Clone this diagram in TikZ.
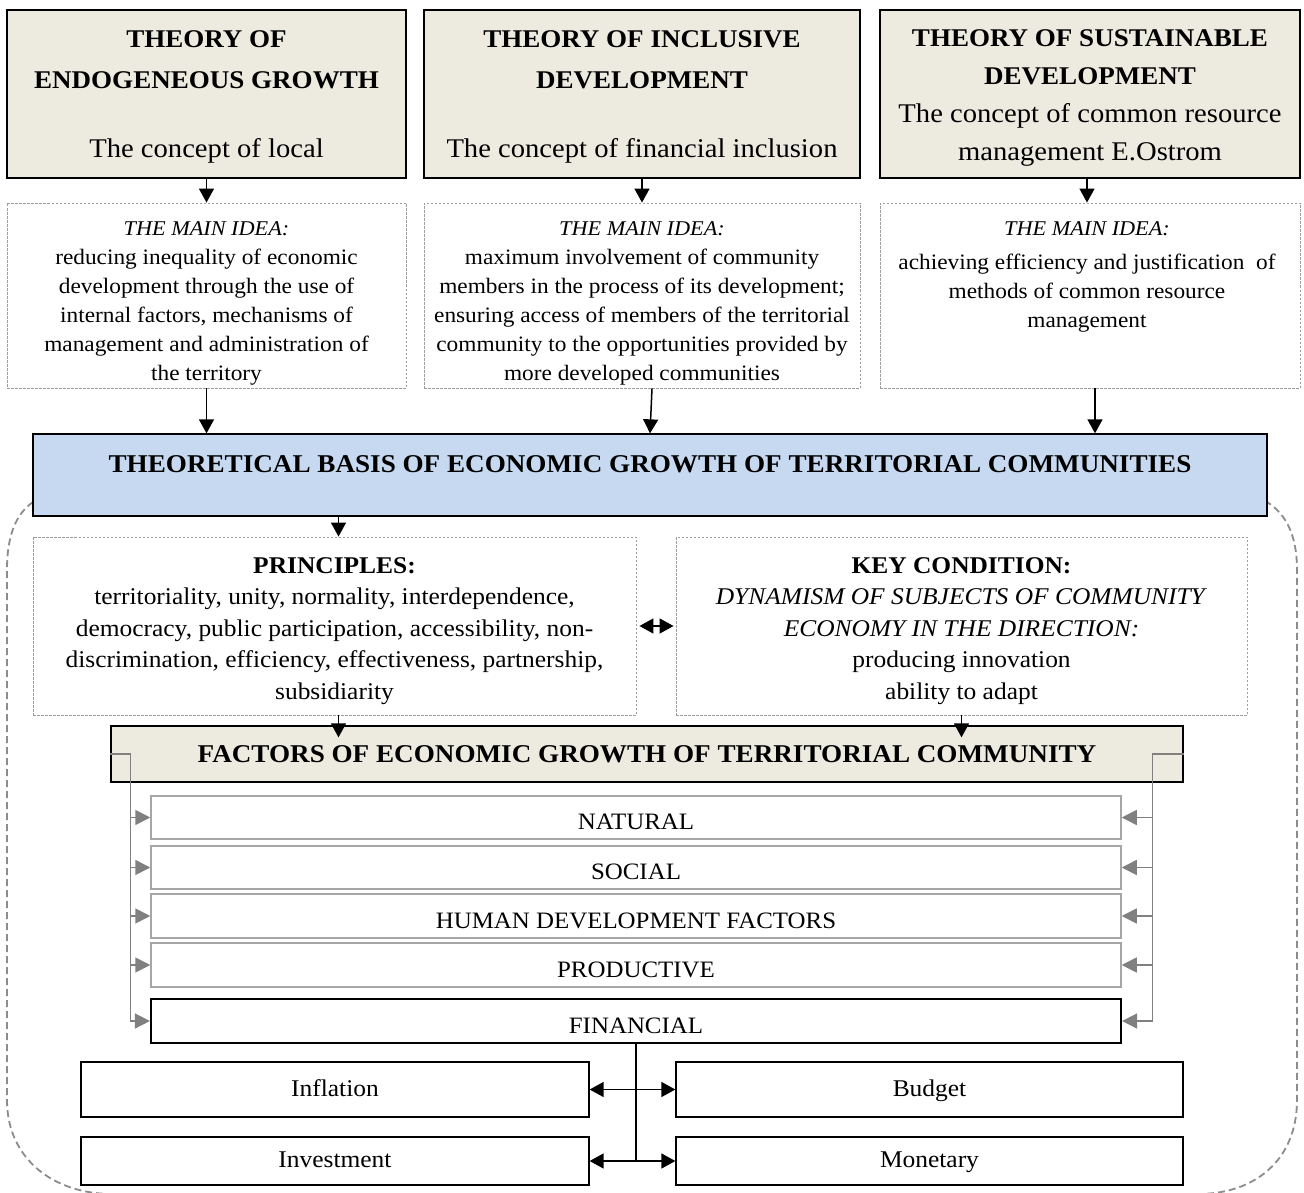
\documentclass[tikz,border=0pt]{standalone}
\usepackage{fontspec}
\setmainfont{Liberation Serif}[FakeStretch=1.06]
\usetikzlibrary{arrows.meta,calc}
\definecolor{beige}{HTML}{EDEBE0}
\definecolor{paleblue}{HTML}{C6D9F0}
\definecolor{dotgray}{HTML}{9C9C9C}
\definecolor{linkgray}{HTML}{808080}
\definecolor{rowgray}{HTML}{A6A6A6}
\definecolor{outline}{HTML}{8C8C8C}
\newcommand{\fs}[2]{\fontsize{#1}{#2}\selectfont}
\newcommand{\ideahead}{\fs{21}{29}\itshape}
\newcommand{\topstrut}[1]{\rule{0pt}{#1}}
\begin{document}
\begin{tikzpicture}[x=1pt,y=-1pt,
  theory/.style={draw, line width=1.3pt, fill=beige, align=center, inner sep=0pt},
  ideabox/.style={draw=dotgray, line width=0.9pt, dash pattern=on 2.5pt off 1.5pt, inner sep=0pt},
  ideatxt/.style={align=center, inner sep=0pt, anchor=north, font=\fs{22}{29}},
  basebox/.style={draw, line width=1.3pt, fill=paleblue, inner sep=0pt},
  facbox/.style={draw, line width=1.3pt, fill=beige, inner sep=0pt, font=\fs{25.6}{30}\bfseries},
  condbox/.style={draw=dotgray, line width=0.9pt, dash pattern=on 2.5pt off 1.5pt, inner sep=0pt, align=center, font=\fs{24}{31.5}},
  rowbox/.style={draw=rowgray, line width=1.5pt, inner sep=0pt, minimum width=970, font=\fs{23.5}{28}, text height=24.6pt, text depth=0pt},
  finbox/.style={draw, line width=2.2pt, inner sep=0pt, minimum width=970, font=\fs{23.5}{28}, text height=24.6pt, text depth=0pt},
  leafbox/.style={draw, line width=1.3pt, inner sep=0pt, font=\fs{24}{28}, text height=18pt, text depth=5pt},
  arr/.style={line width=1.5pt, -{Triangle[length=14pt,width=15pt]}},
  darr/.style={line width=1.5pt, {Triangle[length=14pt,width=15pt]}-{Triangle[length=14pt,width=15pt]}},
  glink/.style={draw=linkgray, line width=1.6pt},
  garr/.style={draw=linkgray, line width=1.6pt, -{Triangle[length=15pt,width=15pt]}, color=linkgray},
]
\useasboundingbox (0,0) rectangle (1304,1193);

% rounded dashed frame around the lower part
\draw[outline, line width=1.8pt, dash pattern=on 7pt off 4pt]
  (33,502) .. controls (16,514) and (7,535) .. (7,570)
  -- (7,1100) .. controls (7,1160) and (55,1194) .. (112,1194)
  -- (1198,1194) .. controls (1255,1194) and (1297,1160) .. (1297,1100)
  -- (1297,570) .. controls (1297,535) and (1286,514) .. (1267,502);

% the three theories
\node[theory, minimum width=399, minimum height=168, font=\fs{27}{41}] (t1) at (206.5,94)
  {{\bfseries\fs{25.5}{41}\topstrut{23pt}THEORY OF}\\{\bfseries\fs{25.5}{41}ENDOGENEOUS GROWTH}\\[28pt]The concept of local};
\node[theory, minimum width=436, minimum height=168, font=\fs{27}{41}] (t2) at (642,94)
  {{\bfseries\fs{25.5}{41}\topstrut{23pt}THEORY OF INCLUSIVE}\\{\bfseries\fs{25.5}{41}DEVELOPMENT}\\[28pt]The concept of financial inclusion};
\node[theory, minimum width=420, minimum height=168, font=\fs{27}{38}] (t3) at (1090,94)
  {{\bfseries\fs{25.5}{38}\topstrut{24pt}THEORY OF SUSTAINABLE}\\{\bfseries\fs{25.5}{38}DEVELOPMENT}\\The concept of common resource\\management E.Ostrom};

% main ideas
\node[ideabox, minimum width=399, minimum height=185] (i1) at (206.5,295.5) {};
\node[ideabox, minimum width=436, minimum height=185] (i2) at (642,295.5) {};
\node[ideabox, minimum width=420, minimum height=185] (i3) at (1090,295.5) {};

\node[ideatxt] (i1t) at (206.5,221)
  {{\ideahead THE MAIN IDEA:}\\reducing inequality of economic\\development through the use of\\internal factors, mechanisms of\\management and administration of\\the territory};
\node[ideatxt] (i2t) at (642,221)
  {{\ideahead THE MAIN IDEA:}\\maximum involvement of community\\members in the process of its development;\\ensuring access of members of the territorial\\community to the opportunities provided by\\more developed communities};
\node[ideatxt] (i3t) at (1087,221)
  {{\ideahead THE MAIN IDEA:}\\[5pt]achieving efficiency and justification\ \ of\\methods of common resource\\management};

% theoretical basis
\node[basebox, minimum width=1234, minimum height=82] (base) at (650,475) {};
\node[inner sep=0pt, font=\fs{25.6}{30}\bfseries] (baset) at (650,464)
  {THEORETICAL BASIS OF ECONOMIC GROWTH OF TERRITORIAL COMMUNITIES};

% principles and key condition
\node[condbox, minimum width=603, minimum height=178] (pr) at (334.5,626)
  {\topstrut{26pt}\textbf{PRINCIPLES:}\\territoriality, unity, normality, interdependence,\\democracy, public participation, accessibility, non-\\discrimination, efficiency, effectiveness, partnership,\\subsidiarity};
\node[condbox, minimum width=571, minimum height=178] (kc) at (961.5,626)
  {\topstrut{26pt}\textbf{KEY CONDITION:}\\\textit{DYNAMISM OF SUBJECTS OF COMMUNITY}\\\textit{ECONOMY IN THE DIRECTION:}\\producing innovation\\ability to adapt};

% factors
\node[facbox, minimum width=1072, minimum height=56] (fac) at (647,754)
  {FACTORS OF ECONOMIC GROWTH OF TERRITORIAL COMMUNITY};
\node[rowbox, minimum height=43] (nat) at (636,817.5) {NATURAL};
\node[rowbox, minimum height=43] (soc) at (636,867.5) {SOCIAL};
\node[rowbox, minimum height=44] (hum) at (636,916) {HUMAN DEVELOPMENT FACTORS};
\node[rowbox, minimum height=44] (pro) at (636,965) {PRODUCTIVE};
\node[finbox, minimum height=44] (fin) at (636,1021) {FINANCIAL};

% financial instruments
\node[leafbox, minimum width=508, minimum height=55] (infl) at (335,1089.5) {Inflation};
\node[leafbox, minimum width=507, minimum height=55] (budg) at (929.5,1089.5) {Budget};
\node[leafbox, minimum width=508, minimum height=48] (inv) at (335,1161) {Investment};
\node[leafbox, minimum width=507, minimum height=48] (mon) at (929.5,1161) {Monetary};

% connectors: theories -> ideas -> basis
\draw[arr] (t1.south) -- (i1.north);
\draw[arr] (t2.south) -- (i2.north);
\draw[arr] ([xshift=-3pt]t3.south) -- ([xshift=-3pt]i3.north);
\draw[arr] (i1.south) -- (i1.south |- base.north);
\draw[arr] ([xshift=10pt]i2.south) -- ([xshift=8pt]i2.south |- base.north);
\draw[arr] ([xshift=5pt]i3.south) -- ([xshift=5pt]i3.south |- base.north);

% basis -> principles, principles <-> key condition
\draw[arr] ([xshift=4pt]pr.north |- base.south) -- ([xshift=4pt]pr.north);
\draw[darr] ([xshift=3pt]pr.east) -- ([xshift=-2pt]kc.west);
\draw[arr] ([xshift=4pt]pr.south) -- ($([xshift=4pt]pr.south |- fac.north)+(0,12)$);
\draw[arr] (kc.south) -- ($(kc.south |- fac.north)+(0,12)$);

% factor buses
\draw[glink] (fac.west) -- ++(20,0) coordinate (lb) -- (lb |- fin.west);
\draw[glink] (fac.east) -- ++(-31,0) coordinate (rb) -- (rb |- fin.east);
\foreach \r in {nat,soc,hum,pro,fin} {
  \draw[garr] (lb |- \r.west) -- (\r.west);
  \draw[garr] (rb |- \r.east) -- (\r.east);
}

% financial branches
\draw[line width=1.5pt] (fin.south) -- (fin.south |- inv.east);
\draw[darr] (infl.east) -- (budg.west);
\draw[darr] (inv.east) -- (mon.west);
\end{tikzpicture}
\end{document}
